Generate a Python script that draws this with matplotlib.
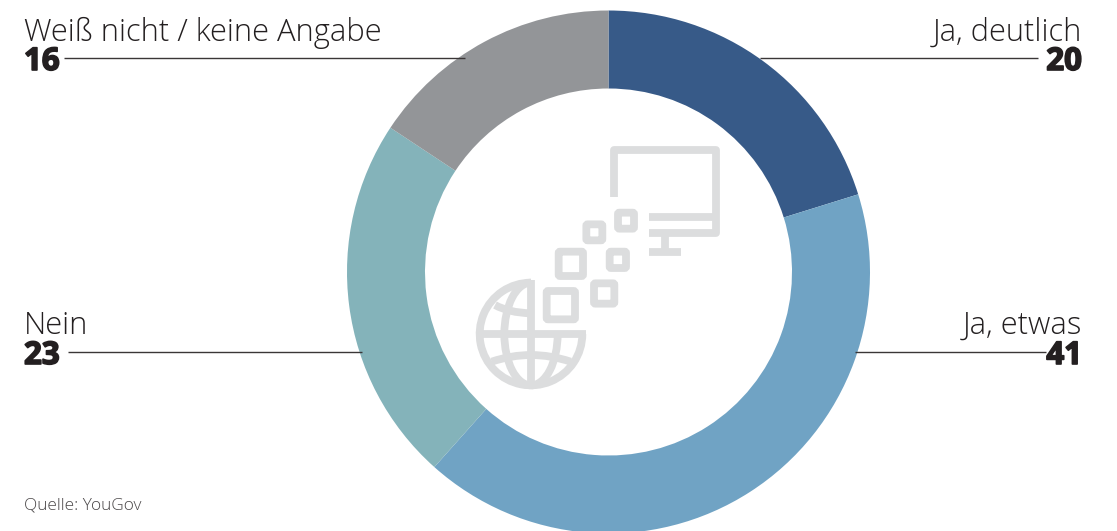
import matplotlib
matplotlib.use("Agg")
import matplotlib.pyplot as plt
import matplotlib.patheffects as pe
from matplotlib.patches import Arc, FancyBboxPatch, PathPatch
from matplotlib.path import Path

labels = ["Ja, deutlich", "Ja, etwas", "Nein", "Weiß nicht / keine Angabe"]
values = [20, 41, 23, 16]
# ring shares as measured on the picture, the labels are rounded
shares = [20.2, 41.4, 22.7, 15.7]
colors = ["#375A88", "#70A3C4", "#84B3BA", "#939598"]
source = "Quelle: YouGov"

W, H = 1117, 531
INK = "#231F20"
ICON = "#DCDDDE"

plt.rcParams["font.family"] = ["Open Sans", "DejaVu Sans"]

fig = plt.figure(figsize=(W / 100, H / 100), dpi=100)
ax = fig.add_axes([0, 0, 1, 1])
ax.set_xlim(0, W)
ax.set_ylim(0, H)
ax.axis("off")

# ring
ax.pie(shares, colors=colors, startangle=90, counterclock=False,
       center=(608.5, H - 272), radius=261.5, frame=False,
       wedgeprops=dict(width=78, linewidth=0))
ax.set_xlim(0, W)
ax.set_ylim(0, H)
ax.set_aspect("auto")


def line(x0, x1, y):
    ax.plot([x0, x1], [H - y, H - y], color="#3A3637", lw=1.0, zorder=1,
            solid_capstyle="butt")


def label(x, ha, name, value, y_name, y_val):
    ax.text(x, H - y_name, name, ha=ha, va="baseline", fontsize=22.2,
            fontweight=300, color=INK)
    ax.text(x, H - y_val, str(value), ha=ha, va="baseline", fontsize=22.5,
            fontweight="bold", color=INK,
            path_effects=[pe.withStroke(linewidth=1.2, foreground=INK)])


label(1082, "right", labels[0], values[0], 41, 70)
label(1082, "right", labels[1], values[1], 334, 364)
label(24, "left", labels[2], values[2], 334, 364)
label(24, "left", labels[3], values[3], 41, 70)
line(64, 465, 58)
line(760, 1038, 58)
line(68, 362, 352)
line(855, 1046, 352)

ax.text(24, H - 509, source, ha="left", va="baseline", fontsize=12.4,
        fontweight=300, color="#4A4748")


# icon, coordinates from the zoomed crop
def zx(x):
    return 440 + x / 3


def zy(y):
    return H - (130 + y / 3)


LW = 5.6


def stroke(pts):
    xs = [zx(p[0]) for p in pts]
    ys = [zy(p[1]) for p in pts]
    ax.plot(xs, ys, color=ICON, lw=LW, solid_joinstyle="round",
            solid_capstyle="butt", zorder=3)


stroke([(522, 200), (522, 60), (828, 60), (828, 308), (628, 308)])
stroke([(628, 260), (828, 260)])
stroke([(675, 308), (675, 366)])
stroke([(628, 366), (722, 366)])

squares = [(523, 237, 70), (428, 272, 70), (345, 354, 95), (498, 354, 71),
           (451, 449, 83), (309, 472, 107)]
for sx, sy, s in squares:
    inset = 11
    ax.add_patch(FancyBboxPatch(
        (zx(sx + inset), zy(sy + s - inset)), (s - 2 * inset) / 3, (s - 2 * inset) / 3,
        boxstyle="round,pad=0,rounding_size=1.5", fill=False, edgecolor=ICON,
        lw=LW, zorder=3))

gx, gy = zx(273), zy(612)
ax.add_patch(Arc((gx, gy), 2 * 154 / 3, 2 * 154 / 3, theta1=90, theta2=360,
                 edgecolor=ICON, lw=LW, zorder=3))
ax.add_patch(Arc((gx, gy), 2 * 80 / 3, 2 * 154 / 3, theta1=90, theta2=270,
                 edgecolor=ICON, lw=LW, zorder=3))
ax.add_patch(Arc((gx, gy), 2 * 80 / 3, 2 * 154 / 3, theta1=270, theta2=360,
                 edgecolor=ICON, lw=LW, zorder=3))
stroke([(120, 612), (437, 612)])
stroke([(273, 450), (273, 770)])
for p in [[(165, 525), (205, 548), (273, 550)],
          [(155, 695), (273, 655), (392, 695)]]:
    path = Path([(zx(a), zy(b)) for a, b in p], [Path.MOVETO, Path.CURVE3, Path.CURVE3])
    ax.add_patch(PathPatch(path, fill=False, edgecolor=ICON, lw=LW, zorder=3))

fig.savefig("out.png", dpi=100, facecolor="white")
